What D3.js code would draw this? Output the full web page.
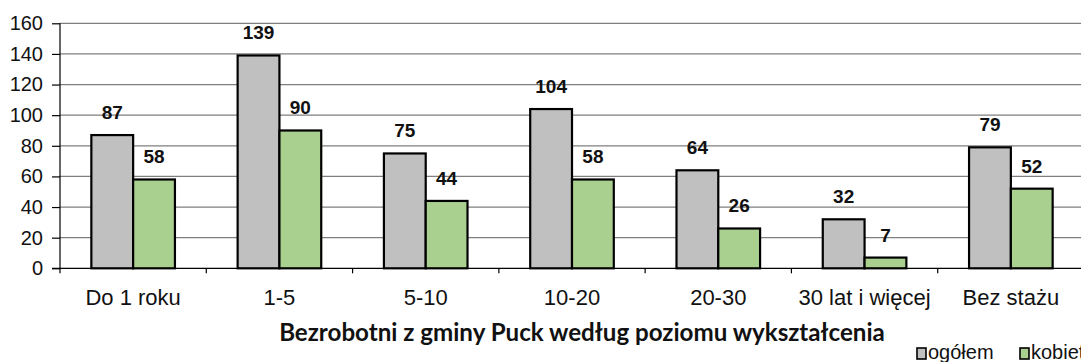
<!DOCTYPE html>
<html>
<head>
<meta charset="utf-8">
<script src="https://cdn.jsdelivr.net/npm/d3@7"></script>
<style>
  html, body { margin: 0; padding: 0; background: #fff; }
  svg { display: block; }
</style>
</head>
<body>
<svg id="chart" width="1081" height="362"></svg>
<script>
// Staż pracy – bezrobotni w gminie Puck
const categories = ["Do 1 roku", "1-5", "5-10", "10-20", "20-30", "30 lat i więcej", "Bez stażu"];
const ogolem = [87, 139, 75, 104, 64, 32, 79];
const kobiety = [58, 90, 44, 58, 26, 7, 52];
const seriesNames = ["ogółem", "kobiety"];
const yTicks = [0, 20, 40, 60, 80, 100, 120, 140, 160];
const title = "Bezrobotni z gminy Puck według poziomu wykształcenia";

const colors = ["#c0c0c0", "#a9d08e"];
const svg = d3.select("#chart");
const font = "'Liberation Sans', Arial, sans-serif";

const plot = { left: 60, right: 1084, top: 23.3, bottom: 268.3 };

const x = d3.scaleBand()
  .domain(categories)
  .range([plot.left, plot.right])
  .paddingInner(0)
  .paddingOuter(0);

// bars take 84.6 of the 146.3 px category slot (gap = 1.5 × bar width)
const xs = d3.scaleBand()
  .domain(seriesNames)
  .range([0, x.bandwidth()])
  .paddingOuter(0.75)
  .paddingInner(0);

const y = d3.scaleLinear().domain([0, 160]).range([plot.bottom, plot.top]);

// horizontal gridlines
svg.append("g")
  .selectAll("line")
  .data(yTicks.filter(d => d > 0))
  .join("line")
  .attr("x1", plot.left).attr("x2", plot.right)
  .attr("y1", d => y(d)).attr("y2", d => y(d))
  .attr("stroke", "#7f7f7f").attr("stroke-width", 1.2);

// y axis
const yAxis = svg.append("g")
  .attr("transform", `translate(${plot.left},0)`)
  .call(d3.axisLeft(y).tickValues(yTicks).tickSize(8).tickPadding(9));
yAxis.select(".domain").attr("stroke", "#000").attr("stroke-width", 1.2)
  .attr("d", `M0,${plot.top}V${plot.bottom + 5}`);
yAxis.selectAll(".tick line").attr("stroke", "#000").attr("stroke-width", 1.2);
yAxis.selectAll(".tick text")
  .attr("font-family", font).attr("font-size", 20).attr("fill", "#111");

// x axis
const xAxis = svg.append("g")
  .attr("transform", `translate(0,${plot.bottom})`)
  .call(d3.axisBottom(x).tickSize(0).tickPadding(0));
xAxis.select(".domain").remove();
xAxis.append("line")
  .attr("x1", plot.left - 8).attr("x2", plot.right)
  .attr("y1", 0).attr("y2", 0)
  .attr("stroke", "#000").attr("stroke-width", 1.2);
xAxis.selectAll(".tick text")
  .attr("font-family", font).attr("font-size", 22).attr("fill", "#111")
  .attr("y", 37).attr("dy", 0);
// category separators
xAxis.append("g").selectAll("line")
  .data(categories.slice(1))
  .join("line")
  .attr("x1", d => x(d)).attr("x2", d => x(d))
  .attr("y1", 0).attr("y2", 5)
  .attr("stroke", "#000").attr("stroke-width", 1.2);

// bars
const rows = categories.map((c, i) => ({ cat: c, vals: [ogolem[i], kobiety[i]] }));
const groups = svg.append("g").selectAll("g")
  .data(rows)
  .join("g")
  .attr("transform", d => `translate(${x(d.cat)},0)`);

groups.selectAll("rect")
  .data(d => d.vals.map((v, j) => ({ v, s: seriesNames[j], j })))
  .join("rect")
  .attr("x", d => xs(d.s))
  .attr("width", xs.bandwidth())
  .attr("y", d => y(d.v))
  .attr("height", d => y(0) - y(d.v))
  .attr("fill", d => colors[d.j])
  .attr("stroke", "#000").attr("stroke-width", 2.2);

groups.selectAll("text")
  .data(d => d.vals.map((v, j) => ({ v, s: seriesNames[j] })))
  .join("text")
  .attr("x", d => xs(d.s) + xs.bandwidth() / 2)
  .attr("y", d => y(d.v) - 16)
  .attr("text-anchor", "middle")
  .attr("font-family", font).attr("font-weight", "bold").attr("font-size", 19)
  .attr("fill", "#111")
  .text(d => d.v);

// title
const t = svg.append("text")
  .attr("x", 582).attr("y", 341)
  .attr("text-anchor", "middle")
  .attr("font-family", "Lato, 'Open Sans', sans-serif")
  .attr("font-weight", "bold")
  .attr("font-size", 22)
  .attr("fill", "#111")
  .text(title);
const tl = t.node().getComputedTextLength();
t.attr("font-size", 22 * 606 / tl);

// legend
const legend = svg.append("g");
const legendItems = [{ name: seriesNames[0], x: 917 }, { name: seriesNames[1], x: 1020 }];
legend.selectAll("rect")
  .data(legendItems)
  .join("rect")
  .attr("x", d => d.x).attr("y", 348)
  .attr("width", 9).attr("height", 11)
  .attr("fill", (d, i) => colors[i])
  .attr("stroke", "#000").attr("stroke-width", 1.6);
legend.selectAll("text")
  .data(legendItems)
  .join("text")
  .attr("x", d => d.x + 11).attr("y", 359)
  .attr("font-family", font).attr("font-size", 20).attr("fill", "#111")
  .text(d => d.name);
</script>
</body>
</html>
